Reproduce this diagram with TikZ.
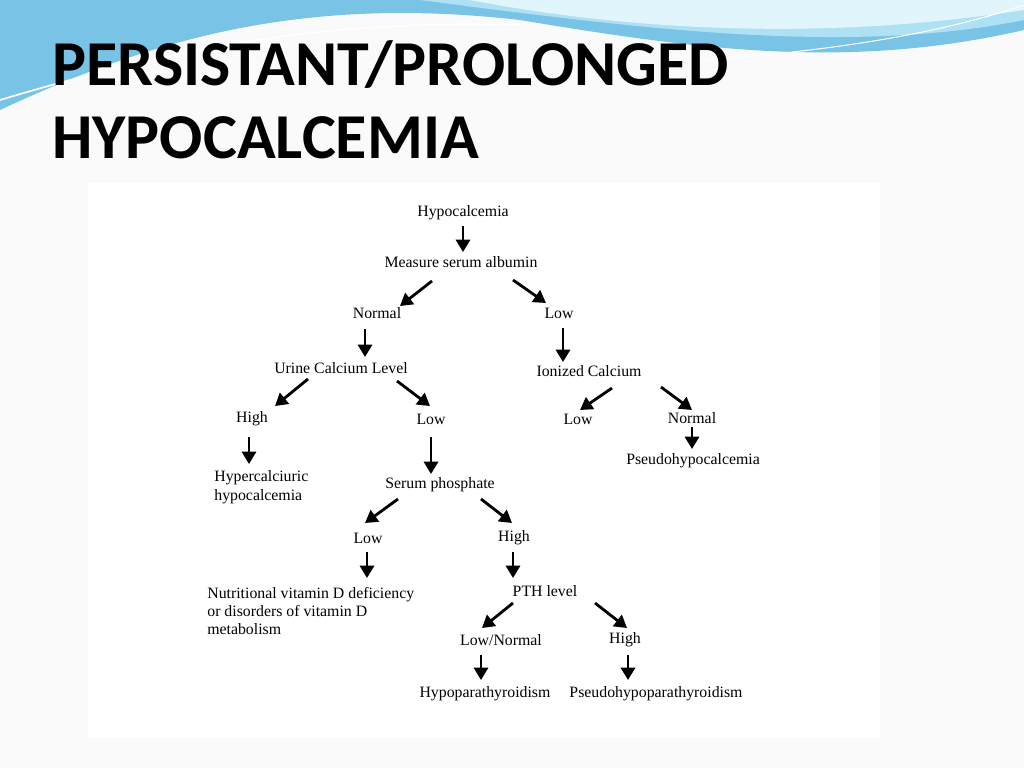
\documentclass[tikz,border=0pt]{standalone}
\usepackage{fontspec}
\setmainfont{Liberation Serif}
\newfontfamily\titlefont{Carlito}
\usetikzlibrary{arrows.meta}
\definecolor{waveA}{RGB}{120,195,230}
\definecolor{waveB}{RGB}{175,225,245}
\definecolor{waveC}{RGB}{225,245,252}
\begin{document}
\begin{tikzpicture}[x=0.02cm,y=-0.02cm,
  lbl/.style={font=\fontsize{9}{10.5}\selectfont, inner sep=0pt},
  ttl/.style={font=\titlefont\bfseries\fontsize{36.4}{42}\selectfont, anchor=west, inner sep=0pt},
  arr/.style={line width=1.6pt,-{Triangle[length=7pt,width=8pt]}}]
\useasboundingbox (0,0) rectangle (1024,768);
\fill[gray!4] (0,0) rectangle (1024,768);
% top wave
\fill[waveA] (0,0) -- (1024,0) -- (1024,30) .. controls (850,70) and (700,50) .. (520,20) .. controls (300,-5) and (150,40) .. (0,110) -- cycle;
\fill[waveB] (420,0) -- (1024,0) -- (1024,20) .. controls (850,55) and (650,30) .. (420,0) -- cycle;
\fill[waveC] (470,0) .. controls (600,25) and (800,45) .. (1024,10) -- (1024,0) -- cycle;
\draw[white,line width=1pt] (0,100) .. controls (200,40) and (350,20) .. (520,25);
\draw[white,line width=0.6pt] (700,60) .. controls (850,50) and (950,30) .. (1024,5);
\node[ttl] (t1) at (52,65) {PERSISTANT/PROLONGED};
\node[ttl] (t2) at (52,138) {HYPOCALCEMIA};
\fill[white] (88,183) rectangle (880,738);
% nodes
\node[lbl] (n1) at (463,213) {Hypocalcemia};
\node[lbl] (n2) at (461,262) {Measure serum albumin};
\node[lbl] (n3) at (377,313) {Normal};
\node[lbl] (n4) at (559,313) {Low};
\node[lbl] (n5) at (341,368) {Urine Calcium Level};
\node[lbl] (n6) at (589,371) {Ionized Calcium};
\node[lbl] (n7) at (252,419) {High};
\node[lbl] (n8) at (431,419) {Low};
\node[lbl] (n9) at (578,419) {Low};
\node[lbl] (n10) at (692,418) {Normal};
\node[lbl, anchor=west, align=left] (n11) at (214,487) {Hypercalciuric\\hypocalcemia};
\node[lbl] (n12) at (440,485) {Serum phosphate};
\node[lbl] (n13) at (693,461) {Pseudohypocalcemia};
\node[lbl] (n14) at (368,538) {Low};
\node[lbl] (n15) at (514,538) {High};
\node[lbl, anchor=west, align=left, font=\fontsize{9}{10.3}\selectfont] (n16) at (207,611) {Nutritional vitamin D deficiency\\or disorders of vitamin D\\metabolism};
\node[lbl] (n17) at (545,591) {PTH level};
\node[lbl] (n18) at (501,640) {Low/Normal};
\node[lbl] (n19) at (625,640) {High};
\node[lbl] (n20) at (485,694) {Hypoparathyroidism};
\node[lbl] (n21) at (656,694) {Pseudohypoparathyroidism};
% arrows
\draw[arr] (463,226) -- (463,252);
\draw[arr] (432,281) -- (400,306);
\draw[arr] (513,280) -- (546,303);
\draw[arr] (365,329) -- (365,357);
\draw[arr] (563,328) -- (563,362);
\draw[arr] (308,379) -- (275,406);
\draw[arr] (397,381) -- (430,406);
\draw[arr] (612,388) -- (580,410);
\draw[arr] (661,387) -- (692,410);
\draw[arr] (249,437) -- (249,464);
\draw[arr] (431,437) -- (431,474);
\draw[arr] (692,427) -- (692,449);
\draw[arr] (398,499) -- (365,523);
\draw[arr] (481,499) -- (512,523);
\draw[arr] (367,552) -- (367,578);
\draw[arr] (513,552) -- (513,578);
\draw[arr] (513,603) -- (482,628);
\draw[arr] (595,603) -- (627,628);
\draw[arr] (481,655) -- (481,680);
\draw[arr] (628,655) -- (628,680);
\end{tikzpicture}
\end{document}
